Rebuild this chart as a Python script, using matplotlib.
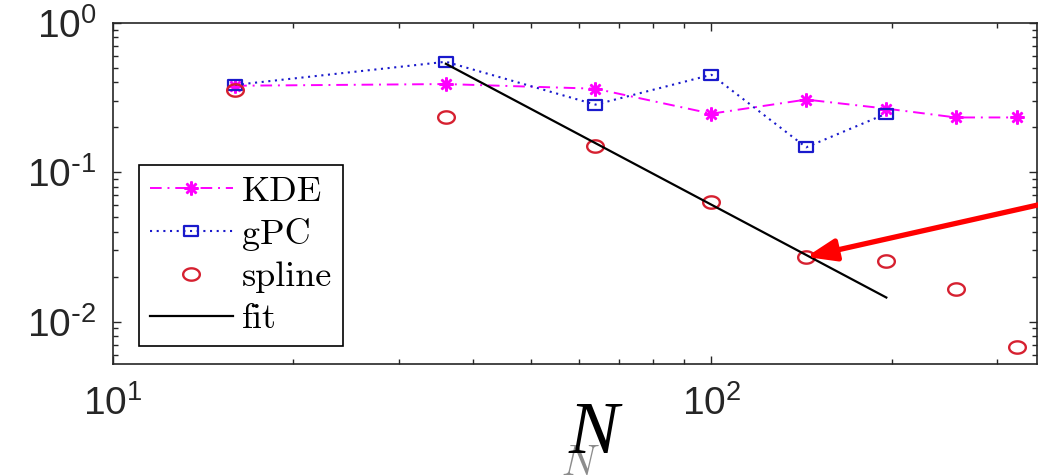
import numpy as np
import matplotlib
matplotlib.use("Agg")
import matplotlib.pyplot as plt
from matplotlib.path import Path
from matplotlib.ticker import LogLocator, NullFormatter, FuncFormatter

# Sample sizes and error of each estimator
N = [16, 36, 64, 100, 144, 196, 256, 324]
kde_err = [0.38, 0.39, 0.363, 0.247, 0.307, 0.267, 0.233, 0.233]
gpc_N = [16, 36, 64, 100, 144, 196]
gpc_err = [0.385, 0.55, 0.284, 0.45, 0.147, 0.247]
spline_err = [0.357, 0.236, 0.151, 0.063, 0.0271, 0.0255, 0.0166, 0.0068]
# Power-law fit through the spline errors
fit_N = [36, 196]
fit_err = [0.533, 0.0145]
labels = ["KDE", "gPC", "spline", "fit"]

plt.rcParams["font.family"] = ["Liberation Sans", "DejaVu Sans"]


def oval(aspect):
    t = np.linspace(0, 2 * np.pi, 61)
    return Path(np.column_stack([aspect * np.cos(t), np.sin(t)]), closed=True)


def box(aspect):
    v = [(-aspect, -1), (aspect, -1), (aspect, 1), (-aspect, 1), (-aspect, -1)]
    return Path(v, closed=True)


def decade_label(v, pos):
    e = int(round(np.log10(v)))
    exp = r"\text{-}%d" % -e if e < 0 else "%d" % e
    return r"$\mathdefault{10^{%s}}$" % exp


fig = plt.figure(figsize=(10.38, 4.76), dpi=100)
ax = fig.add_axes([113 / 1038, 112 / 476, 924 / 1038, 341 / 476])
ax.set_xscale("log")
ax.set_yscale("log")

magenta = "#ff00ff"
blue = "#1a1acc"
red = "#d62030"

ax.plot(N, kde_err, color=magenta, lw=1.4, linestyle=(0, (6, 3, 1, 3)),
        marker=(8, 2, 0), markersize=10, markeredgewidth=1.8,
        markeredgecolor=magenta, label=labels[0])
ax.plot(gpc_N, gpc_err, color=blue, lw=1.5, linestyle=(0, (1, 2.2)),
        marker=box(1.27), markersize=10, markerfacecolor="none",
        markeredgecolor=blue, markeredgewidth=1.6, label=labels[1])
ax.plot(N, spline_err, linestyle="none", marker=oval(1.35), markersize=12,
        markerfacecolor="none", markeredgecolor=red, markeredgewidth=1.7,
        label=labels[2])
ax.plot(fit_N, fit_err, color="black", lw=1.6, label=labels[3])

ax.set_xlim(10, 350)
ax.set_ylim(0.0052, 1.0)

ax.xaxis.set_minor_locator(LogLocator(base=10, subs=np.arange(2, 10), numticks=50))
ax.yaxis.set_minor_locator(LogLocator(base=10, subs=np.arange(2, 10), numticks=50))
ax.xaxis.set_major_formatter(FuncFormatter(decade_label))
ax.yaxis.set_major_formatter(FuncFormatter(decade_label))
ax.xaxis.set_minor_formatter(NullFormatter())
ax.yaxis.set_minor_formatter(NullFormatter())

ax.tick_params(which="both", direction="in", top=True, right=True,
               color="#262626", width=1.0)
ax.tick_params(which="major", length=6)
ax.tick_params(which="minor", length=3.5)
ax.tick_params(axis="x", which="major", pad=15, labelsize=28, labelcolor="#262626")
ax.tick_params(axis="y", which="major", pad=12, labelsize=28, labelcolor="#262626")
for s in ax.spines.values():
    s.set_linewidth(1.2)
    s.set_color("#262626")

leg = ax.legend(loc="upper left", bbox_to_anchor=(0.028, 0.5836), borderaxespad=0,
                prop={"family": "cmr10", "size": 26}, handlelength=2.3,
                handletextpad=0.25, labelspacing=0.275, borderpad=0.3,
                fancybox=False, framealpha=1, edgecolor="black")
leg.get_frame().set_linewidth(1.2)

# axis label: faded original below, bold overlay above
fig.text(578 / 1038, 1 - 475 / 476, "N", family="cmmi10", size=30,
         ha="center", va="baseline", color="#8c8c8c", zorder=5)
fig.text(594 / 1038, 1 - 453 / 476, "N", family="Liberation Serif",
         style="italic", size=54, ha="center", va="baseline", color="black",
         zorder=6)

ax.annotate("", xy=(N[4], spline_err[4]), xycoords="data",
            xytext=(1060, 476 - 200), textcoords="figure pixels",
            arrowprops=dict(arrowstyle="-|>,head_length=0.8,head_width=0.3",
                            color="#ff0000", lw=3.8, shrinkA=0, shrinkB=0,
                            mutation_scale=22),
            annotation_clip=False)

fig.savefig("out.png", dpi=100)
